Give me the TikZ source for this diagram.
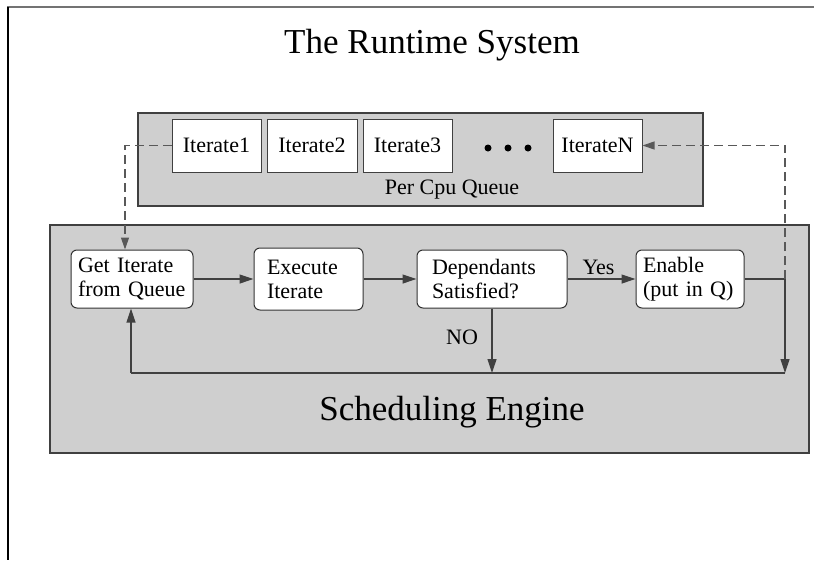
\documentclass[tikz,border=0pt]{standalone}
\usepackage{fontspec}
\setmainfont{Liberation Serif}
\usetikzlibrary{arrows.meta}
\begin{document}
\begin{tikzpicture}[x=1pt,y=-1pt,
  panel/.style={draw=black!75, fill=black!19, line width=1.2pt, inner sep=0pt},
  iterbox/.style={draw=black!75, fill=white, line width=1pt, minimum height=53pt, inner sep=0pt, font=\fontsize{22}{24}\selectfont},
  flowbox/.style={draw=black!80, fill=white, line width=1pt, rounded corners=6pt, align=left, font=\fontsize{22}{24}\selectfont, inner ysep=0pt},
  flow/.style={draw=black!75, line width=1.2pt, -{Triangle[length=14pt,width=9pt]}},
  flowline/.style={draw=black!75, line width=1.2pt},
  dashline/.style={draw=black!65, line width=1.2pt, dash pattern=on 9pt off 5pt, -{Triangle[length=12pt,width=8pt]}},
  lbl/.style={font=\fontsize{22}{24}\selectfont, inner sep=0pt},
  bigtitle/.style={font=\fontsize{35}{40}\selectfont, inner sep=0pt}
]
\useasboundingbox (0,0) rectangle (814,560);
\fill[white] (0,0) rectangle (814,560);
\draw[black!55, line width=2pt] (7,7) -- (814,7);
\draw[black, line width=2pt] (8,7) -- (8,560);

\node[bigtitle, anchor=base] (title) at (432,53) {The Runtime System};

% per cpu queue
\node[panel, minimum width=565pt, minimum height=93pt] (queue) at (420.5,159.5) {};
\node[lbl, anchor=base] (qlabel) at (452,194) {Per Cpu Queue};
\node[iterbox, minimum width=89pt] (i1) at (216.5,145.5) {Iterate1};
\node[iterbox, minimum width=90pt] (i2) at (312,145.5) {Iterate2};
\node[iterbox, minimum width=89pt] (i3) at (407.5,145.5) {Iterate3};
\node[iterbox, minimum width=89pt] (iN) at (597.5,145.5) {IterateN};
\fill (488,148) circle (3.5pt);
\fill (508,148) circle (3.5pt);
\fill (528,148) circle (3.5pt);

% scheduling engine
\node[panel, minimum width=759pt, minimum height=228pt] (engine) at (429.5,339) {};
\node[bigtitle, anchor=base] (etitle) at (452,420) {Scheduling Engine};

\node[flowbox, text width=108pt, inner xsep=7pt, minimum height=58pt] (get) at (132,279) {Get Iterate\\from Queue};
\node[flowbox, text width=83pt, inner xsep=13pt, minimum height=62pt] (exec) at (308.5,279) {Execute\\Iterate};
\node[flowbox, text width=120pt, inner xsep=15pt, minimum height=58pt] (dep) at (492,279) {Dependants\\Satisfied?};
\node[flowbox, text width=94pt, inner xsep=7pt, minimum height=58pt] (en) at (690,279) {\mbox{Enable}\\\mbox{(put in Q)}};

\coordinate (r1) at (785,279);
\coordinate (r2) at (785,373);
\coordinate (l1) at (131,373);

\draw[flow] (get.east) -- (exec.west);
\draw[flow] (exec.east) -- (dep.west);
\draw[flow] (dep.east) -- node[lbl, above=4pt, xshift=-3pt] (yes) {Yes} (en.west);
\draw[flowline] (en.east) -- (r1);
\draw[flow] (r1) -- (r2);
\draw[flowline] (r2) -- (l1);
\draw[flow] (l1) -- (l1 |- get.south);
\draw[flow] (dep.south) -- (dep.south |- r2);
\node[lbl] (no) at (462,337) {NO};

% dashed connectors
\coordinate (dl) at (125,145.5);
\coordinate (dr) at (785,145.5);
\draw[dashline] (i1.west) -- (dl) -- (dl |- get.north);
\draw[dashline] (r1) -- (dr) -- (iN.east);
\end{tikzpicture}
\end{document}
